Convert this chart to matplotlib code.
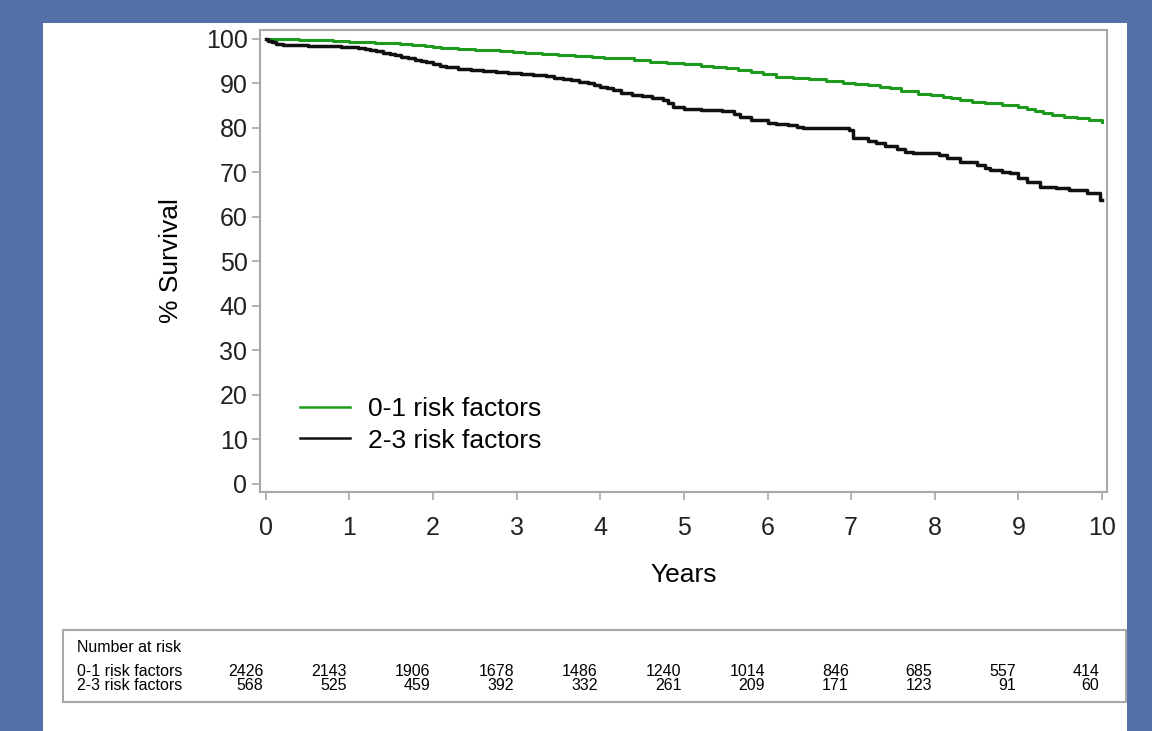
import matplotlib
matplotlib.use("Agg")
import matplotlib.pyplot as plt
import matplotlib.transforms as mtransforms
from matplotlib.patches import Rectangle

plt.rcParams['font.family'] = ['Liberation Sans', 'DejaVu Sans']

# Kaplan-Meier step points (years, % survival)
low_t = [0, 0.15, 0.4, 0.6, 0.8, 1.0, 1.15, 1.3, 1.45, 1.6, 1.75, 1.9, 2.0, 2.1,
         2.3, 2.5, 2.65, 2.8, 2.95, 3.1, 3.3, 3.5, 3.7, 3.9, 4.05, 4.2, 4.4, 4.6,
         4.8, 5.0, 5.2, 5.35, 5.5, 5.65, 5.8, 5.95, 6.1, 6.3, 6.5, 6.7, 6.9, 7.05,
         7.2, 7.35, 7.46, 7.6, 7.8, 7.95, 8.1, 8.2, 8.3, 8.45, 8.6, 8.8, 9.0, 9.1,
         9.2, 9.3, 9.4, 9.55, 9.7, 9.85, 10.0]
low_s = [100, 99.9, 99.8, 99.7, 99.6, 99.4, 99.3, 99.1, 99.0, 98.8, 98.6, 98.4,
         98.2, 98.0, 97.8, 97.6, 97.4, 97.2, 97.0, 96.8, 96.6, 96.4, 96.2, 96.0,
         95.8, 95.6, 95.3, 94.9, 94.6, 94.3, 93.9, 93.7, 93.4, 93.0, 92.6, 92.1,
         91.5, 91.2, 90.9, 90.6, 90.2, 89.9, 89.6, 89.2, 88.9, 88.3, 87.6, 87.3,
         87.0, 86.7, 86.3, 85.9, 85.5, 85.1, 84.6, 84.2, 83.7, 83.3, 82.9, 82.5,
         82.2, 81.8, 81.4]

high_t = [0, 0.03, 0.07, 0.12, 0.2, 0.3, 0.5, 0.7, 0.9, 1.1, 1.18, 1.25, 1.32,
          1.4, 1.48, 1.55, 1.62, 1.7, 1.78, 1.85, 1.92, 2.0, 2.08, 2.15, 2.3, 2.45,
          2.6, 2.75, 2.9, 3.05, 3.2, 3.35, 3.45, 3.55, 3.65, 3.75, 3.85, 3.92, 4.0,
          4.08, 4.15, 4.25, 4.38, 4.5, 4.62, 4.75, 4.81, 4.87, 5.0, 5.2, 5.45, 5.6,
          5.67, 5.8, 6.0, 6.1, 6.25, 6.35, 6.42, 6.98, 7.02, 7.2, 7.3, 7.4, 7.55,
          7.65, 7.74, 8.05, 8.15, 8.3, 8.5, 8.6, 8.66, 8.8, 8.9, 9.0, 9.1, 9.26,
          9.45, 9.6, 9.82, 9.98, 10.0]
high_s = [100, 99.6, 99.2, 98.9, 98.7, 98.6, 98.4, 98.3, 98.2, 98.0, 97.8, 97.5,
          97.2, 96.9, 96.6, 96.3, 96.0, 95.6, 95.3, 95.0, 94.7, 94.3, 94.0, 93.6,
          93.2, 93.0, 92.8, 92.6, 92.3, 92.1, 91.9, 91.6, 91.3, 91.0, 90.8, 90.4,
          90.1, 89.7, 89.3, 88.9, 88.5, 87.8, 87.5, 87.2, 86.8, 86.3, 85.6, 84.8,
          84.3, 84.0, 83.9, 83.2, 82.4, 81.7, 81.2, 80.9, 80.6, 80.2, 79.9, 79.6,
          77.7, 77.0, 76.5, 76.0, 75.2, 74.7, 74.3, 73.9, 73.3, 72.4, 71.6, 71.0,
          70.6, 70.2, 69.8, 68.8, 67.8, 66.8, 66.4, 66.0, 65.3, 63.8, 63.8]

groups = ["0-1 risk factors", "2-3 risk factors"]
colors = ["#1e9a1e", "#111111"]

# number at risk table
risk_years = list(range(0, 11))
risk_low = [2426, 2143, 1906, 1678, 1486, 1240, 1014, 846, 685, 557, 414]
risk_high = [568, 525, 459, 392, 332, 261, 209, 171, 123, 91, 60]

W, H = 1152, 731
fig = plt.figure(figsize=(W / 100, H / 100), dpi=100, facecolor="#5570a8")

# white panel and the at-risk box go behind the axes
fig.patches.append(Rectangle((43 / W, 0), (1127 - 43) / W, (H - 23) / H,
                             transform=fig.transFigure, facecolor="white",
                             edgecolor="none", zorder=-10))
fig.patches.append(Rectangle((63 / W, (H - 702) / H), (1126 - 63) / W, (702 - 630) / H,
                             transform=fig.transFigure, facecolor="white",
                             edgecolor="#a8a8a8", lw=1.5, zorder=-5))

ax = fig.add_axes([260 / W, (H - 492) / H, (1107 - 260) / W, (492 - 30) / H])
ax.patch.set_alpha(0)
ax.plot(low_t, low_s, drawstyle="steps-post", color=colors[0], lw=2.2, label=groups[0])
ax.plot(high_t, high_s, drawstyle="steps-post", color=colors[1], lw=2.5, label=groups[1])

ax.set_xlim(-0.07, 10.06)
ax.set_ylim(-1.8, 102)
ax.set_xticks(range(0, 11))
ax.set_yticks(range(0, 101, 10))
for s in ax.spines.values():
    s.set_color("#a8a8a8")
    s.set_linewidth(1.5)
ax.tick_params(colors="#a8a8a8", labelcolor="#222222", labelsize=18,
               length=6, width=1.2)
ax.tick_params(axis="x", pad=11)
ax.tick_params(axis="y", pad=3)
ax.set_ylabel("% Survival", fontsize=19, labelpad=16)
ax.set_xlabel("Years", fontsize=19, labelpad=17)

leg = ax.legend(loc="lower left", bbox_to_anchor=(0.047, 0.085), frameon=False,
                fontsize=19, handlelength=1.9, handletextpad=0.7, labelspacing=0.3,
                borderpad=0, borderaxespad=0)
for h in leg.get_lines():
    h.set_linewidth(1.8)

fs = 11.5
fig.text(77 / W, (H - 647) / H, "Number at risk", fontsize=fs, va="center")
fig.text(77 / W, (H - 672) / H, groups[0], fontsize=fs, va="center")
fig.text(77 / W, (H - 685) / H, groups[1], fontsize=fs, va="center")
blend = mtransforms.blended_transform_factory(ax.transData, fig.transFigure)
for yr, a, b in zip(risk_years, risk_low, risk_high):
    ax.text(yr - 0.03, (H - 672) / H, str(a), transform=blend, ha="right",
            va="center", fontsize=fs, clip_on=False)
    ax.text(yr - 0.03, (H - 685) / H, str(b), transform=blend, ha="right",
            va="center", fontsize=fs, clip_on=False)

fig.savefig("out.png", dpi=100, facecolor=fig.get_facecolor())
